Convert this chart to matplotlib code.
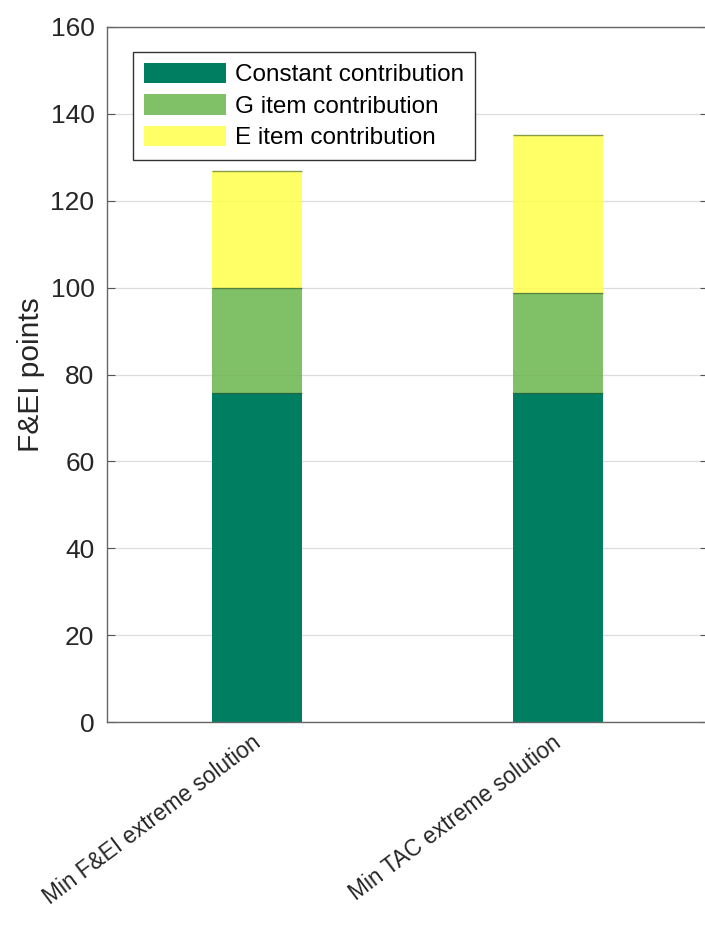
import matplotlib
matplotlib.use("Agg")
import matplotlib.pyplot as plt
import matplotlib.transforms as mtransforms
import numpy as np

plt.rcParams['font.family'] = ['Liberation Sans', 'DejaVu Sans']

categories = ["Min F&EI extreme solution", "Min TAC extreme solution"]
constant_contrib = [75.7, 75.7]
g_item_contrib = [24.2, 23.1]
e_item_contrib = [27.0, 36.4]
series_labels = ["Constant contribution", "G item contribution", "E item contribution"]
colors = ["#007E62", "#6AB54B", "#FFFF4B"]
alphas = [1.0, 0.85, 0.85]
yticks = [0, 20, 40, 60, 80, 100, 120, 140, 160]

fig = plt.figure(figsize=(7.05, 9.25), dpi=100)
W, H = 705, 925
ax = fig.add_axes([107 / W, (H - 722) / H, 601 / W, 695 / H])

x = np.arange(1, len(categories) + 1)
bw = 0.3
bottoms = np.zeros(len(categories))
for vals, lab, col, al in zip([constant_contrib, g_item_contrib, e_item_contrib], series_labels, colors, alphas):
    ax.bar(x, vals, bw, bottom=bottoms, color=col, alpha=al, label=lab, edgecolor='none', zorder=2)
    ax.hlines(bottoms + np.array(vals), x - bw / 2, x + bw / 2, colors='#3a5a2a', linewidth=1.0, alpha=0.6, zorder=3)
    bottoms = bottoms + np.array(vals)

ax.set_xlim(0.5, 2.5)
ax.set_ylim(0, 160)
ax.set_yticks(yticks)
ax.set_xticks(x)
ax.set_xticklabels(categories, rotation=37, ha='right', rotation_mode='anchor', fontsize=16.3)
ax.tick_params(axis='x', length=0, pad=8)
ax.tick_params(axis='y', direction='in', length=6, labelsize=19, colors='#555555', labelcolor='#262626', right=True, pad=9)
offset = mtransforms.ScaledTranslation(-6 / 100, 2 / 100, fig.dpi_scale_trans)
for lab in ax.get_xticklabels():
    lab.set_color('#262626')
    lab.set_transform(lab.get_transform() + offset)

ax.yaxis.grid(True, color='#dcdcdc', linewidth=0.9, zorder=0)
ax.set_axisbelow(True)
for s in ax.spines.values():
    s.set_color('#666666')
    s.set_linewidth(1.0)

ax.set_ylabel("F&EI points", fontsize=21.5, color='#262626', labelpad=4)

leg = ax.legend(loc='upper left', bbox_to_anchor=(0.043, 0.964), borderaxespad=0,
                fontsize=17.5, handlelength=3.4, handleheight=0.9, frameon=True, fancybox=False,
                edgecolor='#333333', borderpad=0.45, labelspacing=0.33, handletextpad=0.35)
leg.get_frame().set_linewidth(1.0)
leg.get_frame().set_alpha(1.0)
leg.set_zorder(10)

fig.savefig("out.png", dpi=100)
